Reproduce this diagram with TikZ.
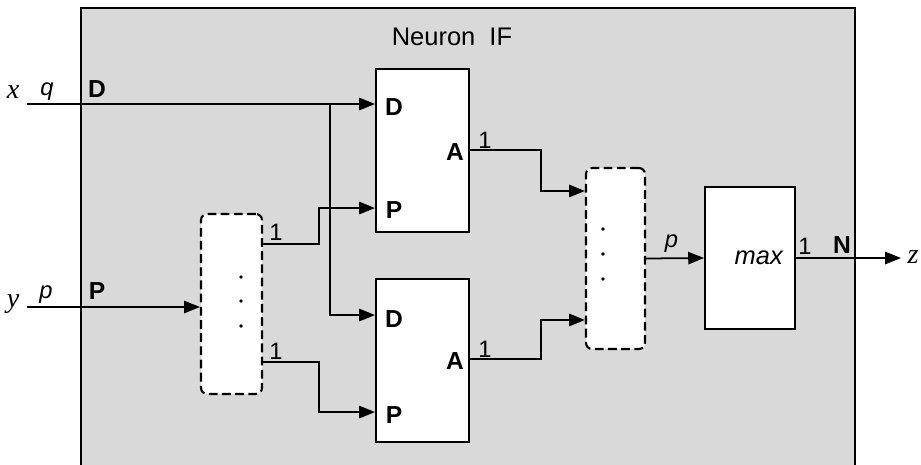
\documentclass[tikz,border=0pt]{standalone}
\usepackage{fontspec}
\setmainfont{Liberation Sans}
\newfontfamily\timesfont{Liberation Serif}
\usepackage{xcolor}
\usepackage{tikz}
\usetikzlibrary{arrows.meta, positioning, calc}

\definecolor{panel}{RGB}{217,217,217}

\begin{document}
\begin{tikzpicture}[
  x=0.02cm, y=-0.02cm,
  block/.style={rectangle, draw=black, line width=1.1pt, fill=white,
    inner sep=0pt},
  mux/.style={rectangle, draw=black, line width=1.2pt, fill=white,
    dash pattern=on 5pt off 2.5pt, rounded corners=3.5pt, inner sep=0pt},
  port/.style={font=\fontsize{14}{16}\selectfont\bfseries, inner sep=0pt},
  num/.style={font=\fontsize{13.5}{15}\selectfont, inner sep=0pt},
  var/.style={font=\fontsize{13.5}{15}\selectfont\itshape, inner sep=0pt},
  sig/.style={font=\fontsize{16}{18}\timesfont\itshape, inner sep=0pt},
  wire/.style={line width=1pt},
  arr/.style={wire, -{Triangle[length=9pt, width=7pt]}}
]
\useasboundingbox (0,0) rectangle (921,464);
\fill[panel] (81,8) rectangle (855,470);
\draw[line width=1.3pt] (81,470) -- (81,8) -- (855,8) -- (855,470);
\node[font=\fontsize{14.5}{17}\selectfont] (title) at (452,37) {Neuron~~IF};

% blocks
\node[block, minimum width=1.86cm, minimum height=3.26cm] (top) at (422.5,150.5) {};
\node[block, minimum width=1.86cm, minimum height=3.26cm] (bot) at (422.5,360.5) {};
\node[mux, minimum width=1.22cm, minimum height=3.6cm] (lbox) at (231.5,304) {};
\node[mux, minimum width=1.18cm, minimum height=3.62cm] (rbox) at (615.5,258.5) {};
\node[block, minimum width=1.8cm, minimum height=2.84cm,
  font=\fontsize{14.5}{17}\selectfont\itshape] (max) at (750,258) {\hspace*{10pt}max};

\foreach \y in {277,301,326} \fill (241,\y) circle (1.8);
\foreach \y in {229,254,279} \fill (603,\y) circle (1.8);

% port labels
\node[port] (tDl) at (394,107) {D};
\node[port] (tPl) at (394,210) {P};
\node[port] (tAl) at (455,152) {A};
\node[port] (bDl) at (394,319) {D};
\node[port] (bPl) at (394,415) {P};
\node[port] (bAl) at (455,361) {A};

% inputs and output
\coordinate (xin) at (27,104);
\coordinate (yin) at (27,307);
\coordinate (split) at (330,104);
\coordinate (zout) at (901,258);
\node[sig] (xl) at (13,92) {x};
\node[var] (ql) at (47,92) {q};
\node[port] (Dl) at (97,89) {D};
\node[sig] (yl) at (13,304) {y};
\node[var] (pl) at (46,295) {p};
\node[port] (Pl) at (97,291) {P};
\node[sig] (zl) at (913,257) {z};

\draw[arr] (xin) -- (top.west |- xin);
\draw[arr] (split) |- ($(bot.north west)+(0,37)$);
\draw[arr] (yin) -- (lbox.west |- yin);

\draw[arr] ($(lbox.north east)+(0,31)$) -- ++(56,0) |- ($(top.north west)+(0,140)$);
\draw[arr] ($(lbox.north east)+(0,149)$) -- ++(56,0) |- ($(bot.north west)+(0,134)$);
\node[num] at (276,232) {1};
\node[num] at (276,351) {1};

\draw[arr] ($(top.north east)+(0,82)$) -- ++(71,0) |- ($(rbox.north west)+(0,24)$);
\draw[arr] ($(bot.north east)+(0,81)$) -- ++(71,0) |- ($(rbox.north west)+(0,153)$);
\node[num] at (485,140) {1};
\node[num] at (485,349) {1};

\draw[arr] (rbox.east) -- node[var, above=3pt, xshift=-2pt] {p} (max.west);
\draw[arr] (max.east) -- (zout);
\node[num] at (805,246) {1};
\node[port] (Nl) at (842,245) {N};
\end{tikzpicture}
\end{document}
